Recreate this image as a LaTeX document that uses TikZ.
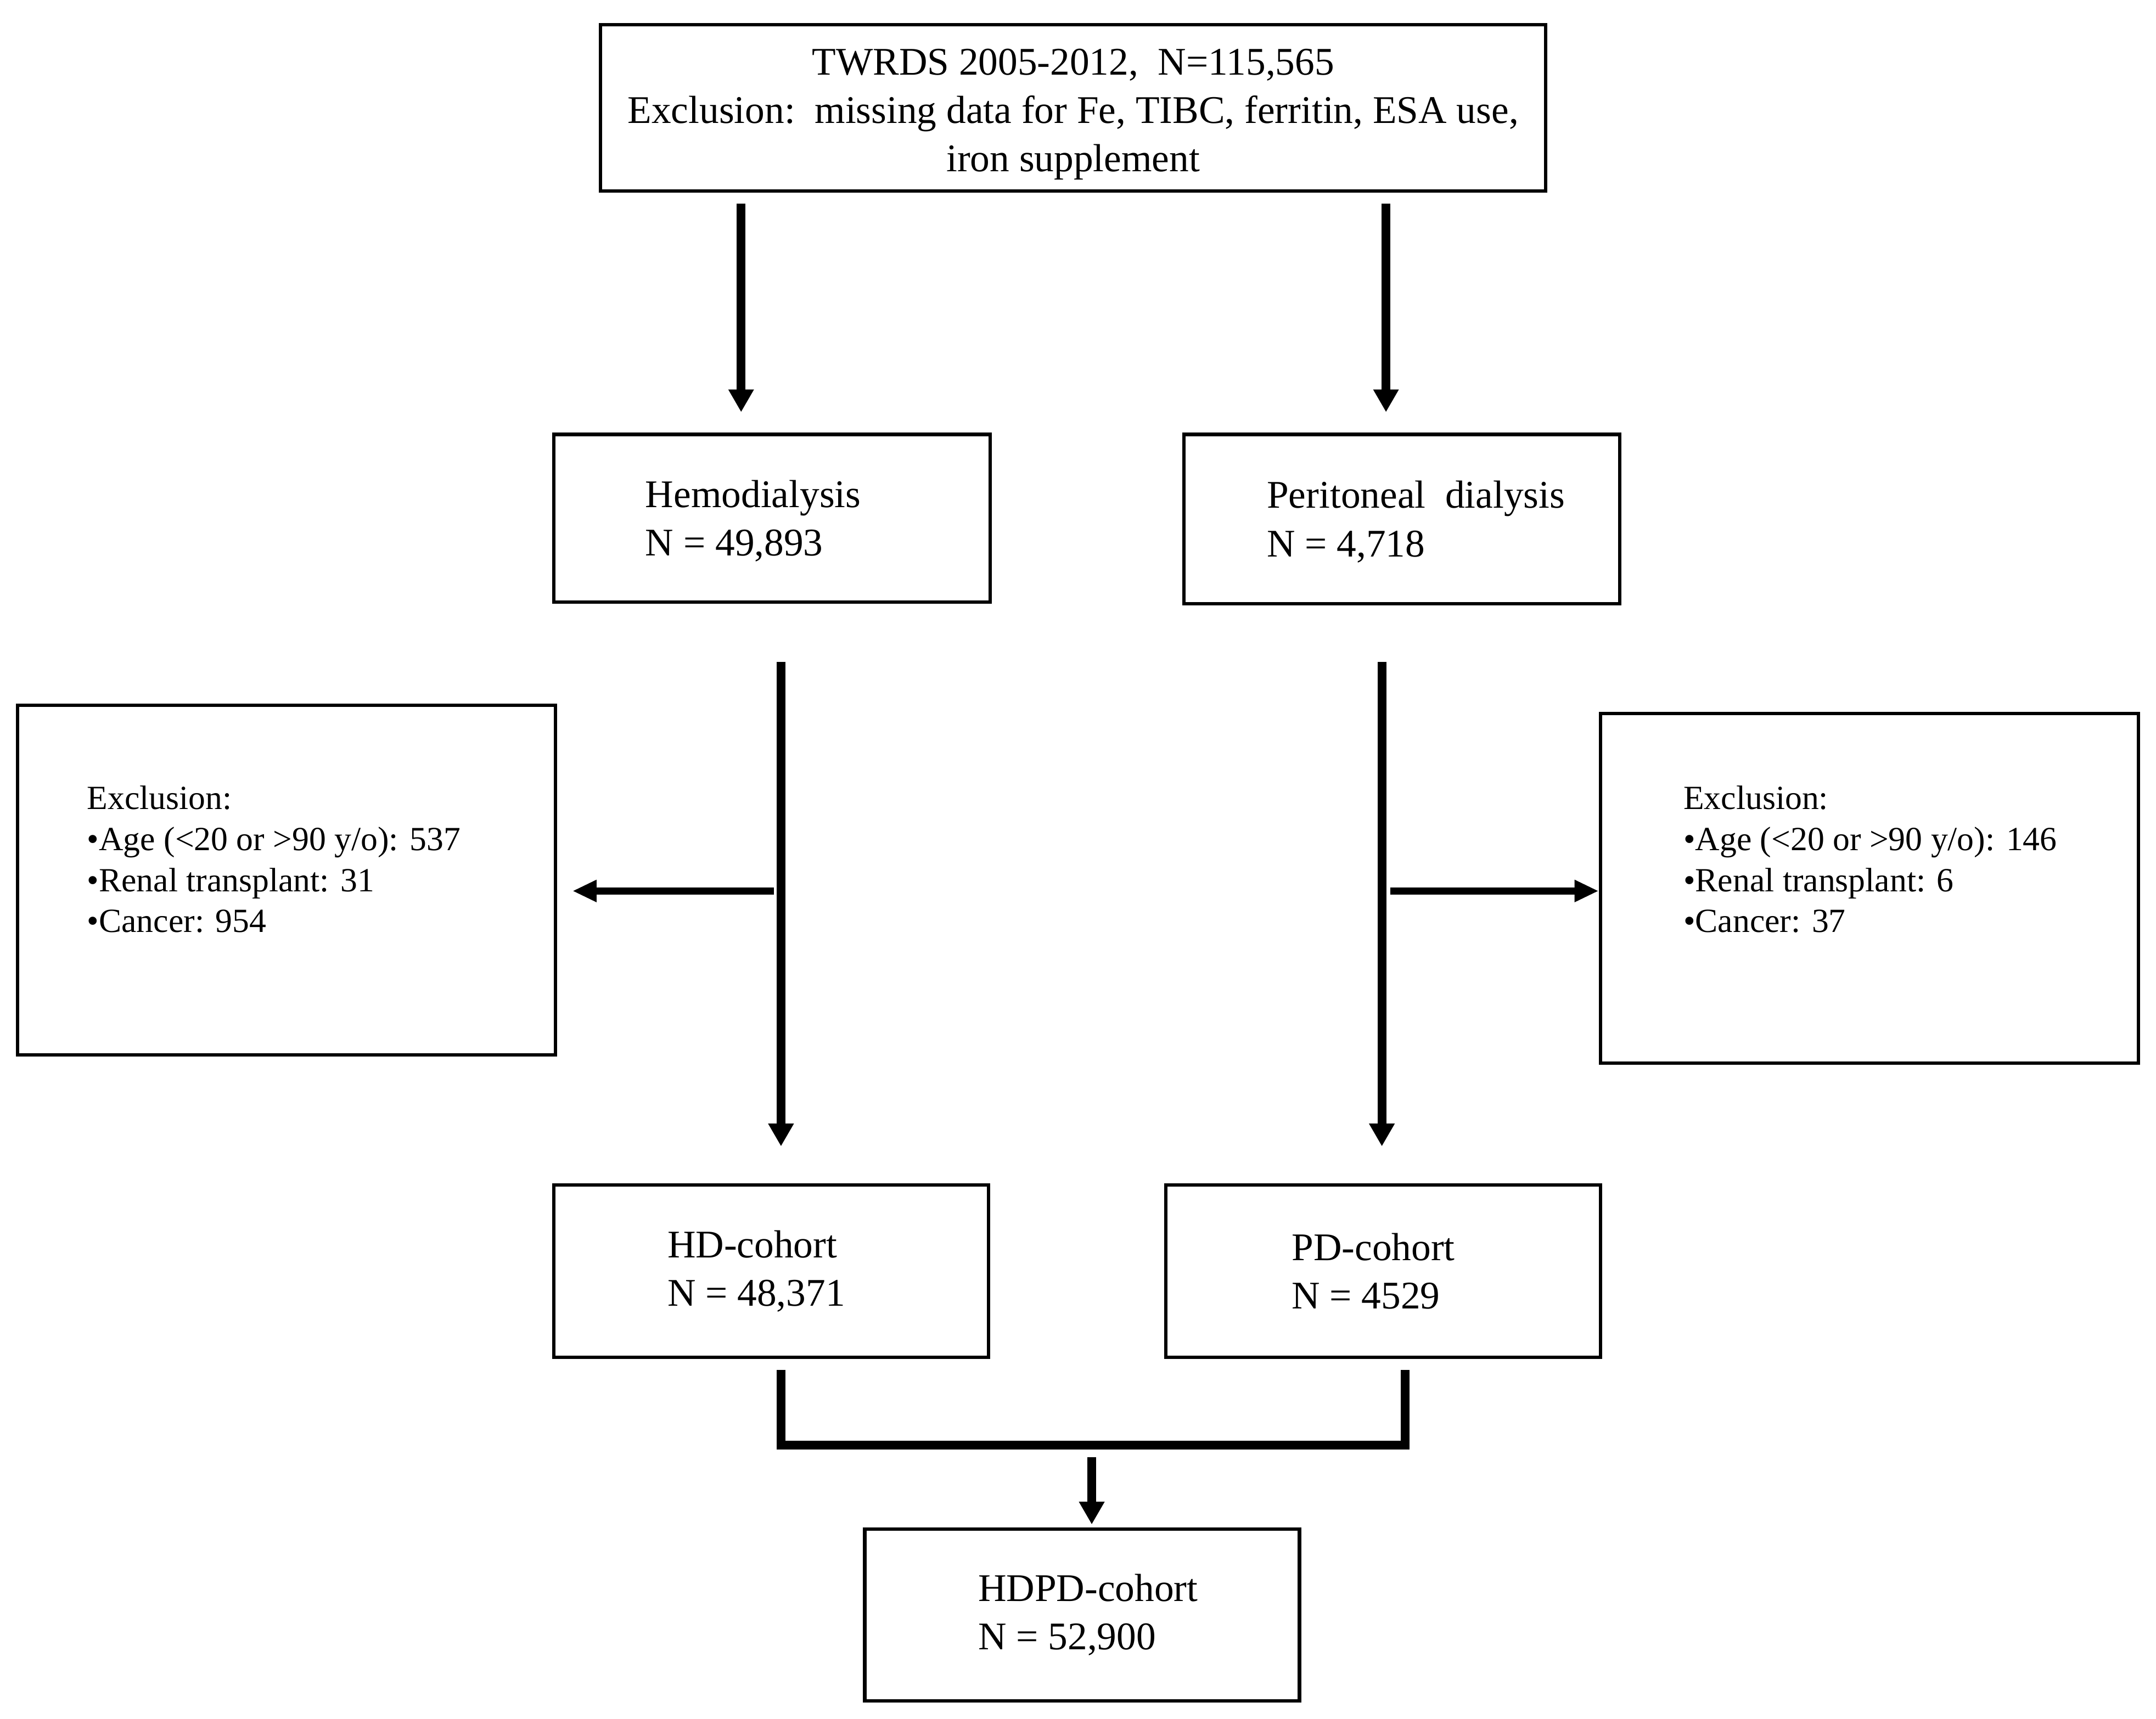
\documentclass[tikz,border=0pt]{standalone}
\usepackage{fontspec}
\setmainfont{Liberation Serif}
\usetikzlibrary{positioning,arrows.meta}
\tikzstyle{box} = [rectangle, draw=black, line width=0.7pt, fill=none, inner sep=0pt]
\tikzstyle{txt} = [inner sep=0pt, align=left, text=black, font=\fontsize{8.1}{10}\selectfont]
\tikzstyle{smalltxt} = [inner sep=0pt, align=left, text=black, font=\fontsize{7}{8.5}\selectfont]

\begin{document}
\begin{tikzpicture}[x=0.01cm, y=-0.01cm,
  flow/.style={line width=1.8pt, -{Triangle[length=1.65mm,width=1.75mm]}},
  side/.style={line width=1.5pt, -{Triangle[length=1.75mm,width=1.5mm]}}]
  \useasboundingbox (0,0) rectangle (1568,1250);
  % draw source box
  \node[box, minimum width=6.87cm, minimum height=1.21cm] (src) at (780.5,78.5) {};
  \node[txt, align=center, yshift=-0.045cm] (srctxt) at (src.center)
    {TWRDS 2005-2012,\ \ N=115,565\\Exclusion:\ \ missing data for Fe, TIBC, ferritin, ESA use,\\iron supplement};
  % draw dialysis boxes
  \node[box, minimum width=3.17cm, minimum height=1.22cm] (hd) at (561.5,377) {};
  \node[box, minimum width=3.17cm, minimum height=1.23cm] (pd) at (1019.5,377.5) {};
  \node[txt, right=0.67cm of hd.west, yshift=-0.02cm] (hdtxt) {Hemodialysis\\N = 49,893};
  \node[txt, right=0.61cm of pd.west, yshift=-0.02cm] (pdtxt) {Peritoneal\ \ dialysis\\N = 4,718};
  % draw exclusion boxes
  \node[box, minimum width=3.91cm, minimum height=2.54cm] (lexcl) at (208.5,640) {};
  \node[box, minimum width=3.91cm, minimum height=2.54cm] (rexcl) at (1359.5,646) {};
  \node[smalltxt, right=0.51cm of lexcl.west, yshift=0.15cm] (lexcltxt)
    {Exclusion:\\\textbullet Age (<20 or >90 y/o): 537\\\textbullet Renal transplant: 31\\\textbullet Cancer: 954};
  \node[smalltxt, right=0.61cm of rexcl.west, yshift=0.21cm] (rexcltxt)
    {Exclusion:\\\textbullet Age (<20 or >90 y/o): 146\\\textbullet Renal transplant: 6\\\textbullet Cancer: 37};
  % draw cohort boxes
  \node[box, minimum width=3.16cm, minimum height=1.25cm] (hdc) at (561,924.5) {};
  \node[box, minimum width=3.16cm, minimum height=1.25cm] (pdc) at (1006,924.5) {};
  \node[box, minimum width=3.16cm, minimum height=1.25cm] (hdpd) at (787,1174.5) {};
  \node[txt, right=0.83cm of hdc.west] (hdctxt) {HD-cohort\\N = 48,371};
  \node[txt, right=0.92cm of pdc.west] (pdctxt) {PD-cohort\\N = 4529};
  \node[txt, right=0.83cm of hdpd.west] (hdpdtxt) {HDPD-cohort\\N = 52,900};
  % columns of the connectors
  \coordinate (tlx) at (539,0);
  \coordinate (trx) at (1008,0);
  \coordinate (lx) at (568,0);
  \coordinate (rx) at (1005,0);
  \coordinate (bx) at (1022,0);
  \coordinate (lbr) at (563,648);
  \coordinate (rbr) at (1011,648);
  \coordinate (mx) at (794,1051);
  % draw split arrows
  \foreach \col/\to in {tlx/hd, trx/pd}
    \draw[flow, shorten <=0.08cm, shorten >=0.15cm] (src.south -| \col) -- (\to.north -| \col);
  % draw arrows down to the cohorts
  \draw[flow, shorten <=0.42cm, shorten >=0.27cm] (hd.south -| lx) -- (hdc.north -| lx);
  \draw[flow, shorten <=0.41cm, shorten >=0.27cm] (pd.south -| rx) -- (pdc.north -| rx);
  % draw exclusion arrows
  \draw[side, shorten >=0.11cm] (lbr) -- (lexcl.east |- lbr);
  \draw[side] (rbr) -- (rexcl.west |- rbr);
  % draw merging bracket
  \draw[line width=1.8pt, shorten <=0.08cm, shorten >=0.08cm] (hdc.south -| lx) |- (mx) -| (pdc.south -| bx);
  \draw[flow, shorten <=0.09cm, shorten >=0.02cm] (mx) -- (hdpd.north -| mx);
\end{tikzpicture}
\end{document}
